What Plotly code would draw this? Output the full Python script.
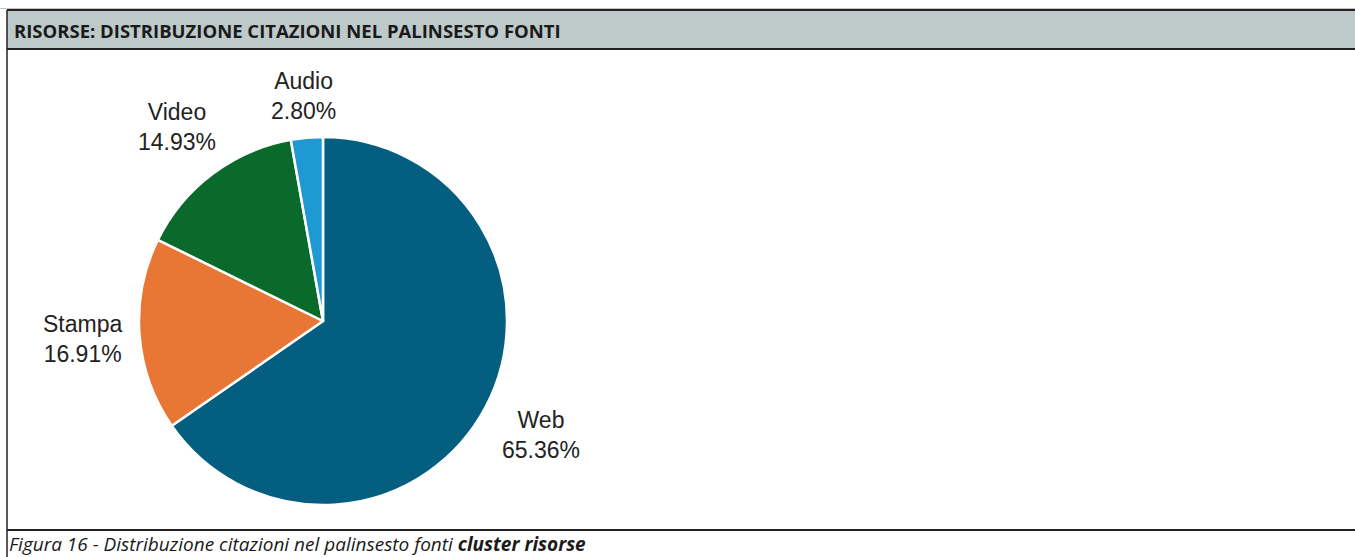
import math
import plotly.graph_objects as go

# Source mix for the "risorse" cluster
categories = ["Web", "Stampa", "Video", "Audio"]
shares = [65.36, 16.91, 14.93, 2.80]
colors = ["#045E80", "#E87634", "#0A6A2B", "#1F99D2"]

title_text = "RISORSE: DISTRIBUZIONE CITAZIONI NEL PALINSESTO FONTI"
caption_plain = "Figura 16 - Distribuzione citazioni nel palinsesto fonti "
caption_bold = "cluster risorse"

W, H = 1355, 557
PIE_CX, PIE_CY, PIE_R = 323, 321, 184
LABEL_SIZE = 23
LABEL_GAP = 16

# Frame geometry in page pixels (x right, y down)
FRAME_LEFT = 7
HEADER_TOP, HEADER_BOTTOM, CAPTION_RULE = 10, 49, 530


def px(x):
    return x / W


def py(y):
    return 1 - y / H


fig = go.Figure()

# Frame: drawn on a hidden pixel-space axis pair that spans the whole page
frame = dict(xaxis="x", yaxis="y", hoverinfo="skip", showlegend=False, mode="lines")
fig.add_trace(go.Scatter(
    x=[FRAME_LEFT, W, W, FRAME_LEFT, FRAME_LEFT],
    y=[HEADER_TOP, HEADER_TOP, HEADER_BOTTOM, HEADER_BOTTOM, HEADER_TOP],
    fill="toself", fillcolor="#BEC9C9", line=dict(width=0), **frame))
fig.add_trace(go.Scatter(x=[0, W], y=[8.5, 8.5], line=dict(color="#C4C4C4", width=1), **frame))
for yy in (HEADER_TOP, HEADER_BOTTOM, CAPTION_RULE):
    fig.add_trace(go.Scatter(x=[FRAME_LEFT, W], y=[yy, yy],
                             line=dict(color="#222222", width=2), **frame))
fig.add_trace(go.Scatter(x=[FRAME_LEFT, FRAME_LEFT], y=[HEADER_TOP, H],
                         line=dict(color="#222222", width=1.5), **frame))

fig.add_trace(go.Pie(
    labels=categories,
    values=shares,
    sort=False,
    direction="clockwise",
    rotation=0,
    marker=dict(colors=colors, line=dict(color="white", width=2.5)),
    textinfo="none",
    hoverinfo="label+percent",
    showlegend=False,
    domain=dict(x=[px(PIE_CX - PIE_R), px(PIE_CX + PIE_R)],
                y=[py(PIE_CY + PIE_R), py(PIE_CY - PIE_R)]),
))

# Outside labels: each box sits a fixed gap beyond the rim, along the slice bisector
total = sum(shares)
cum = 0.0
annotations = []
for name, val in zip(categories, shares):
    mid = (cum + val / 2) / total * 2 * math.pi
    cum += val
    ux, uy = math.sin(mid), -math.cos(mid)
    pct = f"{val:.2f}%"
    n = max(len(name), len(pct))
    half_w = n * LABEL_SIZE * 0.29
    half_h = LABEL_SIZE * 1.0
    shift = abs(ux) * half_w + abs(uy) * half_h
    r = PIE_R + LABEL_GAP + shift
    annotations.append(dict(
        x=px(PIE_CX + r * ux), y=py(PIE_CY + r * uy),
        xref="paper", yref="paper", xanchor="center", yanchor="middle",
        text=f"{name}<br>{pct}", showarrow=False, align="center",
        font=dict(family="Liberation Sans, Arial, sans-serif", size=LABEL_SIZE, color="#222222"),
    ))

# Header title and caption
annotations.append(dict(
    x=px(12), y=py(31), xref="paper", yref="paper", xanchor="left", yanchor="middle",
    text=f"<b>{title_text}</b>", showarrow=False,
    font=dict(family="Open Sans, sans-serif", size=18.5, color="#1a1a1a"),
))
annotations.append(dict(
    x=px(7), y=py(544), xref="paper", yref="paper", xanchor="left", yanchor="middle",
    text=f"<i>{caption_plain}<b>{caption_bold}</b></i>", showarrow=False,
    font=dict(family="Open Sans, sans-serif", size=19, color="#1a1a1a"),
))

hidden = dict(visible=False, showgrid=False, zeroline=False, fixedrange=True, domain=[0, 1])
fig.update_layout(
    width=W, height=H,
    margin=dict(l=0, r=0, t=0, b=0),
    paper_bgcolor="white", plot_bgcolor="rgba(0,0,0,0)",
    xaxis=dict(range=[0, W], **hidden),
    yaxis=dict(range=[H, 0], **hidden),
    annotations=annotations,
)

fig.write_html("out.html")
